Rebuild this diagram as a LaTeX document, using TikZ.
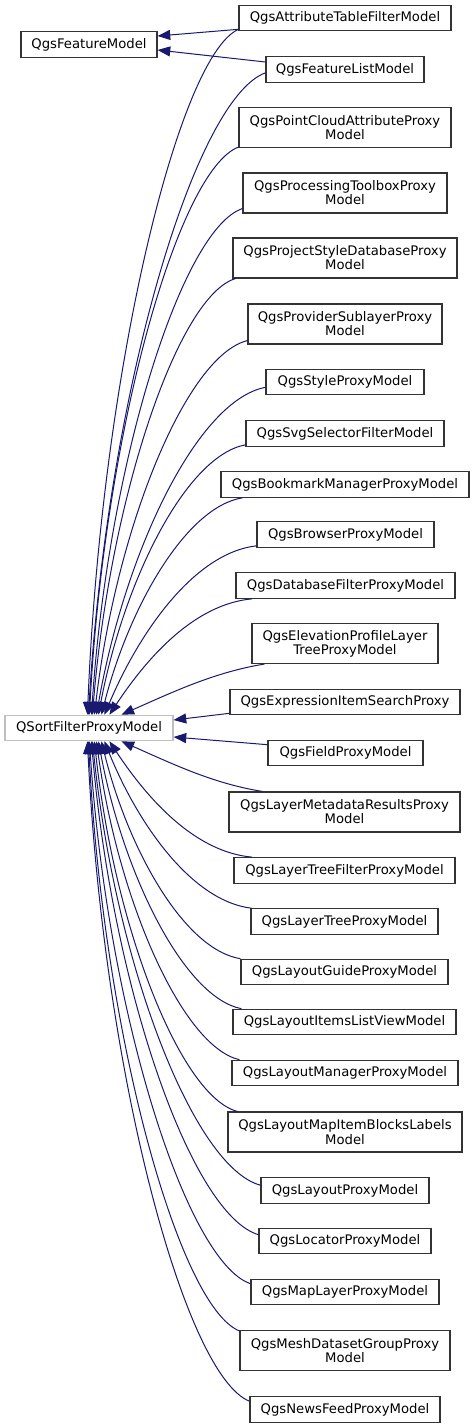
\documentclass[tikz,border=0pt]{standalone}
\usepackage{fontspec}
\setmainfont{DejaVu Sans}
\usetikzlibrary{arrows.meta,calc}

\definecolor{edgeblue}{HTML}{191970}
\definecolor{boxline}{HTML}{333333}
\definecolor{extline}{HTML}{BFBFBF}

\begin{document}
\begin{tikzpicture}[x=0.75pt, y=-0.75pt,
  cls/.style={rectangle, draw=boxline, line width=0.85pt, inner xsep=1pt, inner ysep=0pt, align=center,
    font=\fontsize{9.9pt}{10.6pt}\selectfont},
  one/.style={cls, minimum height=25.5*0.75pt},
  two/.style={cls, minimum height=40*0.75pt},
  inh/.style={draw=edgeblue, line width=0.75pt, -{Triangle[length=9.5pt, width=7.5pt]}}]

\useasboundingbox (0,0) rectangle (475,1428);

% base classes
\draw (89,44.5) node (fm) [one, minimum width=136*0.75pt] {QgsFeatureModel};
\draw (89,728) node (sfpm) [one, draw=extline, minimum width=168*0.75pt] {QSortFilterProxyModel};

% derived classes, top half
\draw (345,18) node (atfm) [one, minimum width=212*0.75pt] {QgsAttributeTableFilterModel};
\draw (345,69.5) node (flm) [one, minimum width=158*0.75pt] {QgsFeatureListModel};
\draw (345,127.5) node (pcap) [two, minimum width=212*0.75pt] {QgsPointCloudAttributeProxy\\Model};
\draw (345,193) node (ptp) [two, minimum width=204*0.75pt] {QgsProcessingToolboxProxy\\Model};
\draw (345,258) node (psdp) [two, minimum width=224*0.75pt] {QgsProjectStyleDatabaseProxy\\Model};
\draw (345,324) node (psp) [two, minimum width=194*0.75pt] {QgsProviderSublayerProxy\\Model};
\draw (345,382) node (sp) [one, minimum width=158*0.75pt] {QgsStyleProxyModel};
\draw (345,433.5) node (ssf) [one, minimum width=198*0.75pt] {QgsSvgSelectorFilterModel};
\draw (345,484.5) node (bmp) [one, minimum width=248*0.75pt] {QgsBookmarkManagerProxyModel};
\draw (345.5,534.5) node (bp) [one, minimum width=177*0.75pt] {QgsBrowserProxyModel};
\draw (345.5,585.5) node (dfp) [one, minimum width=219*0.75pt] {QgsDatabaseFilterProxyModel};
\draw (345,643.5) node (eplt) [two, minimum width=186*0.75pt] {QgsElevationProfileLayer\\TreeProxyModel};
\draw (345,702) node (eis) [one, minimum width=230*0.75pt] {QgsExpressionItemSearchProxy};

% derived classes, bottom half
\draw (345.5,753) node (fp) [one, minimum width=155*0.75pt] {QgsFieldProxyModel};
\draw (344.5,812) node (lmr) [two, minimum width=231*0.75pt] {QgsLayerMetadataResultsProxy\\Model};
\draw (344.5,870.5) node (ltf) [one, minimum width=221*0.75pt] {QgsLayerTreeFilterProxyModel};
\draw (344.5,921.5) node (ltp) [one, minimum width=187*0.75pt] {QgsLayerTreeProxyModel};
\draw (344.5,972) node (lgp) [one, minimum width=207*0.75pt] {QgsLayoutGuideProxyModel};
\draw (344.5,1022) node (lilv) [one, minimum width=223*0.75pt] {QgsLayoutItemsListViewModel};
\draw (345,1073) node (lmp) [one, minimum width=226*0.75pt] {QgsLayoutManagerProxyModel};
\draw (345,1132) node (lmibl) [two, minimum width=234*0.75pt] {QgsLayoutMapItemBlocksLabels\\Model};
\draw (345,1190.5) node (lp) [one, minimum width=168*0.75pt] {QgsLayoutProxyModel};
\draw (345,1241) node (lcp) [one, minimum width=172*0.75pt] {QgsLocatorProxyModel};
\draw (345,1292) node (mlp) [one, minimum width=188*0.75pt] {QgsMapLayerProxyModel};
\draw (345,1350.5) node (mdgp) [two, minimum width=210*0.75pt] {QgsMeshDatasetGroupProxy\\Model};
\draw (345,1409.5) node (nfp) [one, minimum width=190*0.75pt] {QgsNewsFeedProxyModel};

% edges to QgsFeatureModel
\draw [inh] ($(atfm.south west)+(0,-2)$) -- ($(fm.east)+(0,-8.5)$);
\draw [inh] ($(flm.west)+(0,-7.5)$) -- ($(fm.east)+(0,5.5)$);

% edges to QSortFilterProxyModel, from above
\draw [inh] ($(atfm.south west)+(0,-2)$) .. controls +(-60,27) and +(14,-343) .. ($(sfpm.north west)+(83,0)$);
\draw [inh] ($(flm.south west)+(0,-10)$) .. controls +(-71,26) and +(19,-322) .. ($(sfpm.north west)+(84,0)$);
\draw [inh] ($(pcap.south west)+(0,-1)$) .. controls +(-60,23) and +(15,-284) .. ($(sfpm.north west)+(85,0)$);
\draw [inh] ($(ptp.south west)+(0,-5)$) .. controls +(-60,20) and +(17,-254) .. ($(sfpm.north west)+(87,0)$);
\draw [inh] ($(psdp.south west)+(3,0)$) .. controls +(-57,17) and +(18,-219) .. ($(sfpm.north west)+(88,0)$);
\draw [inh] ($(psp.south west)+(0,-4)$) .. controls +(-61,15) and +(22,-188) .. ($(sfpm.north west)+(90,0)$);
\draw [inh] ($(sp.south west)+(0,-8)$) .. controls +(-68,13) and +(29,-164) .. ($(sfpm.north west)+(92,0)$);
\draw [inh] ($(ssf.south west)+(0,-2)$) .. controls +(-59,11) and +(26,-136) .. ($(sfpm.north west)+(94,0)$);
\draw [inh] ($(bmp.south west)+(22,0)$) .. controls +(-56,9) and +(28,-109) .. ($(sfpm.north west)+(97,0)$);
\draw [inh] ($(bp.south west)+(0,-2)$) .. controls +(-61,7) and +(36,-85) .. ($(sfpm.north west)+(100,0)$);
\draw [inh] ($(dfp.south west)+(17,0)$) .. controls +(-57,5) and +(39,-59) .. ($(sfpm.north west)+(105,0)$);
\draw [inh] ($(eplt.south west)+(13,0)$) .. controls +(-50,8) and +(50,-22) .. ($(sfpm.north west)+(117,0)$);

% edges to QSortFilterProxyModel, from the right
\draw [inh] ($(eis.south west)+(0,-2)$) -- ($(sfpm.east)+(0,-8)$);
\draw [inh] ($(fp.north west)+(0,5)$) -- ($(sfpm.east)+(0,9)$);

% edges to QSortFilterProxyModel, from below
\draw [inh] ($(lmr.north west)+(34,0)$) .. controls +(-50,-8) and +(50,22) .. ($(sfpm.south west)+(117,0)$);
\draw [inh] ($(ltf.north west)+(19,0)$) .. controls +(-57,-5) and +(39,59) .. ($(sfpm.south west)+(105,0)$);
\draw [inh] ($(ltp.north west)+(1,0)$) .. controls +(-59,-7) and +(34,84) .. ($(sfpm.south west)+(100,0)$);
\draw [inh] ($(lgp.north west)+(0,0)$) .. controls +(-56,-9) and +(27,109) .. ($(sfpm.south west)+(97,0)$);
\draw [inh] ($(lilv.north west)+(9,0)$) .. controls +(-57,-11) and +(25,134) .. ($(sfpm.south west)+(94,0)$);
\draw [inh] ($(lmp.north west)+(8,0)$) .. controls +(-57,-13) and +(22,160) .. ($(sfpm.south west)+(92,0)$);
\draw [inh] ($(lmibl.north west)+(10,0)$) .. controls +(-57,-15) and +(20,186) .. ($(sfpm.south west)+(90,0)$);
\draw [inh] ($(lp.north west)+(0,8)$) .. controls +(-67,-18) and +(23,223) .. ($(sfpm.south west)+(88,0)$);
\draw [inh] ($(lcp.north west)+(0,7)$) .. controls +(-67,-20) and +(21,247) .. ($(sfpm.south west)+(87,0)$);
\draw [inh] ($(mlp.north west)+(0,5)$) .. controls +(-64,-22) and +(18,272) .. ($(sfpm.south west)+(85,0)$);
\draw [inh] ($(mdgp.north west)+(0,1)$) .. controls +(-60,-24) and +(15,296) .. ($(sfpm.south west)+(84,0)$);
\draw [inh] ($(nfp.north west)+(0,5)$) .. controls +(-65,-26) and +(16,331) .. ($(sfpm.south west)+(83,0)$);

\end{tikzpicture}
\end{document}
